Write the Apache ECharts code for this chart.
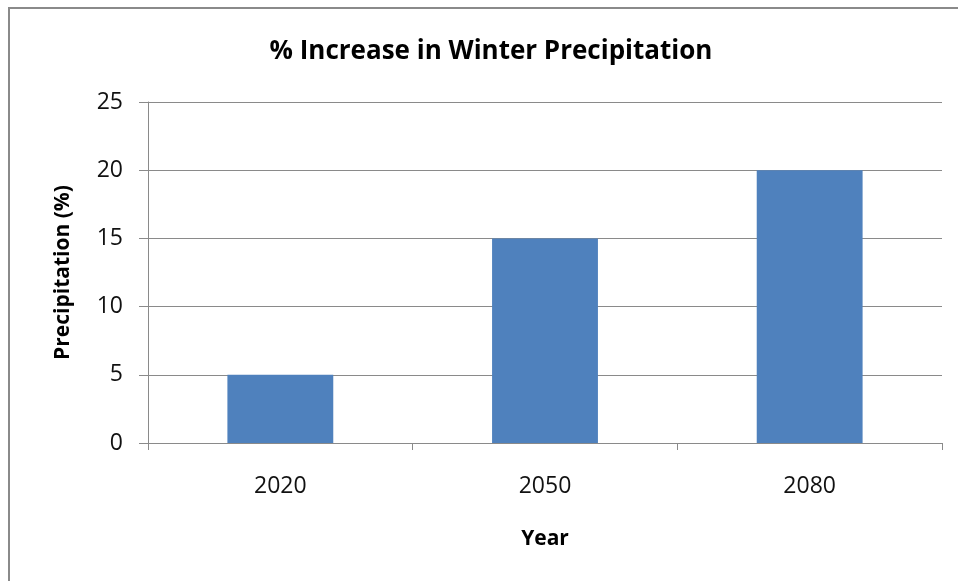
<!DOCTYPE html>
<html>
<head>
<meta charset="utf-8">
<script src="https://cdn.jsdelivr.net/npm/echarts@6/dist/echarts.min.js"></script>
<style>
  html, body { margin: 0; padding: 0; background: #fff; }
  #chart { width: 958px; height: 581px; }
</style>
</head>
<body>
<div id="chart"></div>
<script>
// Winter precipitation increase by projection year
const years = ['2020', '2050', '2080'];
const increasePct = [5, 15, 20];
const yTicks = [0, 5, 10, 15, 20, 25];

const chart = echarts.init(document.getElementById('chart'), null, { renderer: 'canvas' });
const font = "'Open Sans', 'Noto Sans', sans-serif";

chart.setOption({
  animation: false,
  backgroundColor: '#ffffff',
  graphic: [{
    type: 'rect',
    shape: { x: 9, y: 8, width: 1200, height: 1200 },
    style: { fill: 'none', stroke: '#8a8a8a', lineWidth: 2 },
    silent: true
  }],
  title: {
    text: '% Increase in Winter Precipitation',
    left: 486, top: 34, textAlign: 'center',
    textStyle: { fontFamily: font, fontSize: 26, fontWeight: 'bold', color: '#000' }
  },
  grid: { left: 148, right: 16, top: 102, bottom: 138 },
  xAxis: {
    type: 'category',
    data: years,
    name: 'Year',
    nameLocation: 'middle',
    nameGap: 86,
    nameTextStyle: { fontFamily: font, fontSize: 21, fontWeight: 'bold', color: '#000' },
    axisLine: { lineStyle: { color: '#8a8a8a', width: 1 } },
    axisTick: { show: true, length: 7, alignWithLabel: false, lineStyle: { color: '#8a8a8a' } },
    axisLabel: { fontFamily: font, fontSize: 23, color: '#111', margin: 32 }
  },
  yAxis: {
    type: 'value',
    min: yTicks[0],
    max: yTicks[yTicks.length - 1],
    interval: 5,
    name: 'Precipitation (%)',
    nameLocation: 'middle',
    nameRotate: 90,
    nameGap: 74,
    nameTextStyle: { fontFamily: font, fontSize: 21, fontWeight: 'bold', color: '#000' },
    axisLine: { show: true, lineStyle: { color: '#8a8a8a', width: 1 } },
    axisTick: { show: true, length: 9, lineStyle: { color: '#8a8a8a' } },
    axisLabel: { fontFamily: font, fontSize: 23, color: '#111', margin: 25 },
    splitLine: { show: true, lineStyle: { color: '#8a8a8a', width: 1 } }
  },
  series: [{
    type: 'bar',
    data: increasePct,
    barWidth: '40%',
    itemStyle: { color: '#4F81BD' }
  }]
});
</script>
</body>
</html>
